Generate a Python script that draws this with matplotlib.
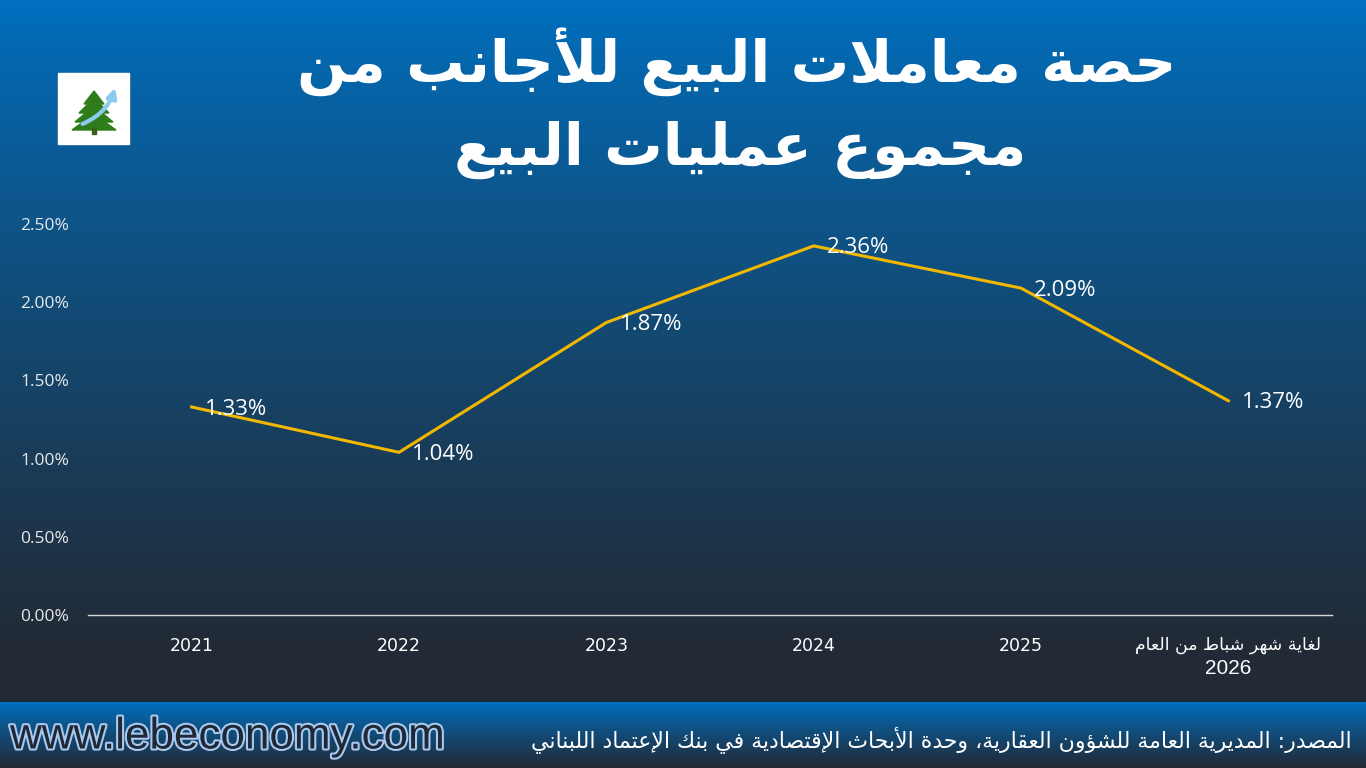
import numpy as np
import matplotlib
matplotlib.use("Agg")
import matplotlib.pyplot as plt
import matplotlib.patheffects as pe

# ---------------- data ----------------
categories = ["2021", "2022", "2023", "2024", "2025", "لغاية شهر شباط من العام\n2026"]
values = [1.33, 1.04, 1.87, 2.36, 2.09, 1.37]
yticks = [0.0, 0.5, 1.0, 1.5, 2.0, 2.5]
title_lines = ["حصة معاملات البيع للأجانب من", "مجموع عمليات البيع"]
source_text = "المصدر: المديرية العامة للشؤون العقارية، وحدة الأبحاث الإقتصادية في بنك الإعتماد اللبناني"
site_text = "www.lebeconomy.com"

# ---------------- minimal Arabic shaping ----------------
FORMS = {
    '\u0621': ('\uFE80', None, None, None),
    '\u0622': ('\uFE81', '\uFE82', None, None),
    '\u0623': ('\uFE83', '\uFE84', None, None),
    '\u0624': ('\uFE85', '\uFE86', None, None),
    '\u0625': ('\uFE87', '\uFE88', None, None),
    '\u0626': ('\uFE89', '\uFE8A', '\uFE8B', '\uFE8C'),
    '\u0627': ('\uFE8D', '\uFE8E', None, None),
    '\u0628': ('\uFE8F', '\uFE90', '\uFE91', '\uFE92'),
    '\u0629': ('\uFE93', '\uFE94', None, None),
    '\u062A': ('\uFE95', '\uFE96', '\uFE97', '\uFE98'),
    '\u062B': ('\uFE99', '\uFE9A', '\uFE9B', '\uFE9C'),
    '\u062C': ('\uFE9D', '\uFE9E', '\uFE9F', '\uFEA0'),
    '\u062D': ('\uFEA1', '\uFEA2', '\uFEA3', '\uFEA4'),
    '\u062E': ('\uFEA5', '\uFEA6', '\uFEA7', '\uFEA8'),
    '\u062F': ('\uFEA9', '\uFEAA', None, None),
    '\u0630': ('\uFEAB', '\uFEAC', None, None),
    '\u0631': ('\uFEAD', '\uFEAE', None, None),
    '\u0632': ('\uFEAF', '\uFEB0', None, None),
    '\u0633': ('\uFEB1', '\uFEB2', '\uFEB3', '\uFEB4'),
    '\u0634': ('\uFEB5', '\uFEB6', '\uFEB7', '\uFEB8'),
    '\u0635': ('\uFEB9', '\uFEBA', '\uFEBB', '\uFEBC'),
    '\u0636': ('\uFEBD', '\uFEBE', '\uFEBF', '\uFEC0'),
    '\u0637': ('\uFEC1', '\uFEC2', '\uFEC3', '\uFEC4'),
    '\u0638': ('\uFEC5', '\uFEC6', '\uFEC7', '\uFEC8'),
    '\u0639': ('\uFEC9', '\uFECA', '\uFECB', '\uFECC'),
    '\u063A': ('\uFECD', '\uFECE', '\uFECF', '\uFED0'),
    '\u0641': ('\uFED1', '\uFED2', '\uFED3', '\uFED4'),
    '\u0642': ('\uFED5', '\uFED6', '\uFED7', '\uFED8'),
    '\u0643': ('\uFED9', '\uFEDA', '\uFEDB', '\uFEDC'),
    '\u0644': ('\uFEDD', '\uFEDE', '\uFEDF', '\uFEE0'),
    '\u0645': ('\uFEE1', '\uFEE2', '\uFEE3', '\uFEE4'),
    '\u0646': ('\uFEE5', '\uFEE6', '\uFEE7', '\uFEE8'),
    '\u0647': ('\uFEE9', '\uFEEA', '\uFEEB', '\uFEEC'),
    '\u0648': ('\uFEED', '\uFEEE', None, None),
    '\u0649': ('\uFEEF', '\uFEF0', None, None),
    '\u064A': ('\uFEF1', '\uFEF2', '\uFEF3', '\uFEF4'),
}
LAMALEF = {'\u0622': ('\uFEF5', '\uFEF6'), '\u0623': ('\uFEF7', '\uFEF8'),
           '\u0625': ('\uFEF9', '\uFEFA'), '\u0627': ('\uFEFB', '\uFEFC')}


def dual(c):
    return c in FORMS and FORMS[c][2] is not None


def joins(c):
    return c in FORMS and FORMS[c][1] is not None


def shape(text):
    out = []
    chars = list(text)
    i = 0
    n = len(chars)
    while i < n:
        c = chars[i]
        prev = chars[i - 1] if i > 0 else ''
        if c not in FORMS:
            out.append(c)
            i += 1
            continue
        connect_prev = dual(prev) and joins(c) if prev else False
        if c == '\u0644' and i + 1 < n and chars[i + 1] in LAMALEF:
            iso, fin = LAMALEF[chars[i + 1]]
            out.append(fin if connect_prev else iso)
            i += 2
            continue
        nxt = chars[i + 1] if i + 1 < n else ''
        connect_next = dual(c) and joins(nxt) if nxt else False
        iso, fin, ini, med = FORMS[c]
        if connect_prev and connect_next:
            out.append(med)
        elif connect_prev:
            out.append(fin)
        elif connect_next:
            out.append(ini)
        else:
            out.append(iso)
        i += 1
    return ''.join(out)[::-1]


def is_ar(line):
    return any('\u0600' <= ch <= '\u06FF' for ch in line)


def ar(text):
    return "\n".join(shape(line) if is_ar(line) else line for line in text.split("\n"))


# ---------------- figure ----------------
W, H = 1366, 768
fig = plt.figure(figsize=(W / 100, H / 100), dpi=100)

# background gradient
bg = fig.add_axes([0, 0, 1, 1])
bg.set_axis_off()
top = np.array([0x00, 0x70, 0xC0]) / 255
bot = np.array([0x22, 0x2A, 0x35]) / 255
yy = np.linspace(0, 1, 700)[:, None]
t = np.clip(yy / 0.93, 0, 1) ** 0.85
grad = top * (1 - t)[..., None] + bot * t[..., None]
grad = np.repeat(grad, 2, axis=1)
bg.imshow(grad, extent=[0, W, H - 700, H], aspect='auto', origin='upper', zorder=0)
# dark strip and footer band
bg.add_patch(plt.Rectangle((0, 0), W, 78, color=bot, zorder=1))
yy2 = np.linspace(0, 1, 66)[:, None]
t2 = yy2 ** 0.9
grad2 = top * (1 - t2)[..., None] + bot * t2[..., None]
grad2 = np.repeat(grad2, 2, axis=1)
bg.imshow(grad2, extent=[0, W, 0, 66], aspect='auto', origin='upper', zorder=2)
bg.set_xlim(0, W)
bg.set_ylim(0, H)

# logo
bg.add_patch(plt.Rectangle((58, H - 144), 71, 71, color='white', zorder=3))
cx = 94
tree_g = '#2E7D1A'
for (yb, wdt, ht) in [(H - 130, 44, 16), (H - 122, 38, 16), (H - 113, 30, 15), (H - 104, 20, 13)]:
    bg.add_patch(plt.Polygon([(cx - wdt / 2, yb), (cx + wdt / 2, yb), (cx, yb + ht)],
                             color=tree_g, zorder=4))
bg.add_patch(plt.Rectangle((cx - 2, H - 134), 4, 6, color='#3B5E1A', zorder=4))
bg.annotate('', xy=(116, H - 85), xytext=(80, H - 125), zorder=5,
            arrowprops=dict(arrowstyle='-|>', color='#8CCBF0', lw=3,
                            connectionstyle='arc3,rad=0.25', mutation_scale=14))

# title
fig.text(737 / W, 1 - 62 / H, ar(title_lines[0]), ha='center', va='center',
         fontsize=42, fontweight='bold', color='white', family='DejaVu Sans')
fig.text(740 / W, 1 - 150 / H, ar(title_lines[1]), ha='center', va='center',
         fontsize=42, fontweight='bold', color='white', family='DejaVu Sans')

# footer texts
fig.text(10 / W, 1 - 737 / H, site_text, ha='left', va='center', fontsize=31.7,
         color='#1E2836', family='Liberation Sans',
         path_effects=[pe.withStroke(linewidth=3, foreground='#A9C8EE')])
fig.text(1352 / W, 1 - 740 / H, ar(source_text), ha='right', va='center', fontsize=15.8,
         color='white', family='DejaVu Sans')

# chart axes
ax = fig.add_axes([88 / W, 1 - 615 / H, (1332 - 88) / W, (615 - 224) / H])
ax.patch.set_alpha(0)
x = np.arange(len(categories))
ax.plot(x, values, color='#F2B800', lw=2.2, solid_joinstyle='miter', zorder=2)
for xi, v in zip(x, values):
    ax.annotate(f"{v:.2f}%", (xi, v), xytext=(9.5, -1.5), textcoords='offset points',
                ha='left', va='center', color='white', fontsize=16, family='Open Sans',
                zorder=3)
ax.set_xlim(-0.5, len(categories) - 0.5)
ax.set_ylim(0, 2.5)
ax.set_yticks(yticks)
ax.set_yticklabels([f"{v:.2f}%" for v in yticks])
ax.set_xticks(x)
xt = [ar(c) if "\n" not in c else "" for c in categories]
ax.set_xticklabels(xt)
for s in ['top', 'right', 'left']:
    ax.spines[s].set_visible(False)
ax.spines['bottom'].set_color('#D9D9D9')
ax.spines['bottom'].set_linewidth(1.0)
ax.tick_params(axis='both', length=0)
ax.tick_params(axis='y', colors='#E8E8E8', labelsize=12.5, pad=13.7)
ax.tick_params(axis='x', colors='white', labelsize=12.5, pad=16)
for lbl in ax.get_yticklabels():
    lbl.set_family('Open Sans')
for lbl in ax.get_xticklabels():
    lbl.set_family('DejaVu Sans')

# multi-line last category label
for xi, c in zip(x, categories):
    if "\n" in c:
        l1, l2 = c.split("\n")
        ax.annotate(ar(l1), (xi, 0), xycoords=('data', 'axes fraction'),
                    xytext=(0, -30), textcoords='offset pixels', ha='center', va='center',
                    color='white', fontsize=12.5, family='DejaVu Sans')
        ax.annotate(l2, (xi, 0), xycoords=('data', 'axes fraction'),
                    xytext=(0, -53), textcoords='offset pixels', ha='center', va='center',
                    color='white', fontsize=15, family='Liberation Sans')

fig.savefig("out.png", dpi=100)
